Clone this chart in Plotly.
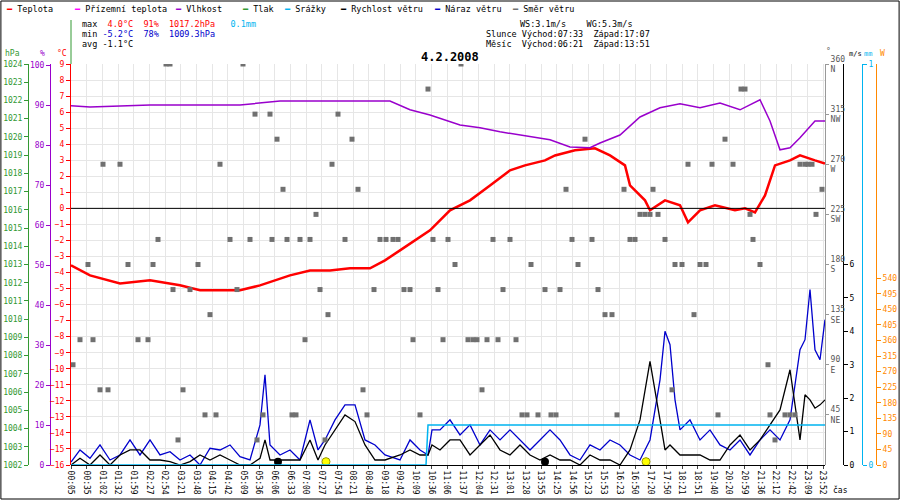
import plotly.graph_objects as go

W, H = 900, 500
time_labels = ["00:05","00:35","01:02","01:32","01:59","02:27","02:54","03:21","03:48","04:15",
               "04:42","05:09","05:36","06:06","06:33","07:00","07:27","07:54","08:21","08:48",
               "09:18","09:42","10:09","10:36","11:06","11:37","12:04","12:31","13:01","13:28",
               "13:55","14:25","14:56","15:23","15:53","16:23","16:50","17:20","17:50","18:21",
               "18:51","19:40","20:20","20:59","21:36","22:12","22:42","23:09","23:52"]

temp_x = [0,19,49,79,109,129,169,189,219,239,259,279,299,314,329,344,359,379,399,419,439,454,474,484,
          504,524,539,554,559,574,579,594,609,617,629,644,664,674,684,694,704,719,729,744,754]
temp_v = [-3.55,-4.18,-4.68,-4.49,-4.8,-5.11,-5.11,-4.8,-4.18,-3.87,-3.87,-3.74,-3.74,-3.24,-2.62,
          -1.99,-1.37,-0.12,0.5,1.43,2.37,2.68,2.99,3.3,3.62,3.74,3.3,2.68,1.43,0.5,-0.12,0.5,0.19,
          -0.87,-0.12,0.19,-0.12,0,-0.25,0.81,2.68,2.99,3.3,2.99,2.8]

hum_x = [0,19,79,169,209,319,339,359,389,409,429,459,479,499,519,529,549,569,589,609,629,649,669,689,
         699,709,719,729,744,754]
hum_v = [89.8,89.5,90,90,91,91,88.8,87.5,85,84.3,83.3,82,81.3,79.5,79.3,80.5,82.5,87,89.3,90.3,89.3,
         90.5,88.8,91.3,86,78.8,79.3,81.8,86,86]

wind_x = [0,9,19,29,39,49,59,69,79,89,99,109,119,129,139,149,159,169,179,189,194,199,209,219,229,239,
          247,254,264,274,284,294,304,314,329,339,349,357,361,369,379,389,399,409,419,429,439,449,459,
          469,479,489,499,509,519,529,539,549,559,569,579,589,594,599,604,609,619,629,639,649,659,669,
          679,689,699,709,719,729,734,739,744,749,754]
gust_v = [0.09,0.45,0.2,0.6,0.15,0.3,0.75,0.3,0.75,0.3,0.4,0.15,0.3,0,0.5,0.45,0.6,0.25,0.15,1.2,2.7,
          0.6,0.3,0.45,0.15,1.35,0.45,0.75,1.35,1.8,1.8,0.75,0.6,0.3,0.15,0.75,0.45,0.3,1.05,1.05,1.35,
          0.9,1.2,0.6,1.05,0.75,1.05,0.75,0.45,0.75,1.05,0.75,0.3,0.15,0.6,0.45,0.75,0.6,0.3,0.15,0.75,
          2.55,4.0,3.6,1.95,1.05,1.35,0.75,1.05,0.6,0.45,0.75,0.3,0.75,1.05,0.75,1.35,3.45,3.75,5.25,
          3.45,3.15,4.35]
speed_v = [0,0.2,0,0.3,0,0.3,0.45,0.45,0.15,0.15,0.1,0,0.1,0.3,0.15,0.3,0.15,0,0,0.2,0.75,0.15,0.15,
           0.15,0.15,0.75,0.15,0.6,1.05,1.5,1.3,0.6,0.15,0.15,0.3,0.45,0.3,0.3,0.6,0.45,0.75,0.75,0.3,
           0.6,0.9,0.45,0.3,0.6,0.3,0.15,0.3,0.15,0.15,0,0.3,0.15,0.15,0,0.45,1.35,3.1,1.35,0.45,0.6,
           0.45,0.3,0.3,0.3,0.15,0.15,0.6,0.9,0.45,0.75,1.2,1.65,2.85,0.75,2.1,1.95,1.7,1.8,1.95]
n = min(len(wind_x), len(gust_v), len(speed_v))

rain_x = [0,355,357,754]
rain_v = [0,0,0.1,0.1]

dir_x = [2,9,17,22,29,32,37,49,57,67,77,82,87,95,99,102,107,112,119,127,134,139,145,149,159,166,172,
         179,184,186,192,199,201,206,212,216,221,225,229,234,239,245,249,254,257,261,267,274,281,287,
         292,296,303,309,315,322,327,333,339,342,349,357,362,367,372,377,384,390,397,402,406,411,416,
         422,427,432,439,445,451,456,460,467,474,480,485,489,495,501,507,514,521,527,534,541,546,553,
         559,564,569,574,579,582,587,594,601,604,611,617,623,629,635,641,647,654,662,670,674,679,682,
         689,697,699,704,714,719,724,729,734,737,741,745,751]
dir_v = [90,112.5,180,112.5,67.5,270,67.5,270,180,112.5,112.5,180,202.5,360,360,157.5,22.5,67.5,157.5,
         180,45,135,45,270,202.5,157.5,360,202.5,315,22.5,45,315,202.5,292.5,247.5,202.5,45,45,202.5,
         112.5,202.5,225,157.5,22.5,135,270,315,202.5,292.5,247.5,67.5,45,157.5,202.5,202.5,202.5,
         202.5,157.5,157.5,112.5,45,337.5,202.5,157.5,112.5,202.5,180,360,112.5,112.5,112.5,67.5,112.5,
         202.5,112.5,157.5,202.5,112.5,45,45,180,45,157.5,45,45,157.5,247.5,202.5,180,292.5,202.5,
         157.5,135,135,45,247.5,202.5,202.5,225,225,225,247.5,225,202.5,67.5,180,180,270,135,180,180,
         270,45,292.5,270,337.5,337.5,225,202.5,180,90,45,22.5,45,45,45,270,270,270,270,225,247.5,
         247.5]
m = min(len(dir_x), len(dir_v))

sun_x = [255, 575]
moon_x = [207, 474]

dom = [71/W, 825/W]
ydom = [(H-465)/H, (H-64)/H]
mono = "DejaVu Sans Mono"

fig = go.Figure()
fig.add_trace(go.Scatter(x=dir_x[:m], y=dir_v[:m], yaxis="y5", mode="markers",
                         marker=dict(symbol="square", size=5, color="#707070")))
fig.add_trace(go.Scatter(x=rain_x, y=rain_v, yaxis="y7", mode="lines", line=dict(color="#00b4f0", width=1.5)))
fig.add_trace(go.Scatter(x=wind_x[:n], y=gust_v[:n], yaxis="y4", mode="lines", line=dict(color="#0000cc", width=1.3)))
fig.add_trace(go.Scatter(x=wind_x[:n], y=speed_v[:n], yaxis="y4", mode="lines", line=dict(color="black", width=1.3)))
fig.add_trace(go.Scatter(x=hum_x, y=hum_v, yaxis="y3", mode="lines", line=dict(color="#9900cc", width=1.5)))
fig.add_trace(go.Scatter(x=temp_x, y=temp_v, yaxis="y", mode="lines", line=dict(color="#ff0000", width=2.5)))
fig.add_trace(go.Scatter(x=sun_x, y=[0.1,0.1], yaxis="y4", mode="markers",
                         marker=dict(size=8, color="yellow", line=dict(color="#999900", width=1))))
fig.add_trace(go.Scatter(x=moon_x, y=[0.1,0.1], yaxis="y4", mode="markers", marker=dict(size=8, color="black")))
fig.add_trace(go.Scatter(x=[0], y=[None], yaxis="y2"))
fig.add_trace(go.Scatter(x=[0], y=[None], yaxis="y8"))

tickf = lambda c: dict(family=mono, size=8, color=c)
common = dict(domain=ydom, anchor="free", showgrid=False, zeroline=False, ticks="outside",
              showline=True, linewidth=1, automargin=False)
fig.update_layout(
    width=W, height=H, margin=dict(l=0, r=0, t=0, b=0, autoexpand=False), showlegend=False,
    paper_bgcolor="white", plot_bgcolor="white",
    xaxis=dict(domain=dom, range=[0, 754], tickvals=[i*752/48 for i in range(49)], ticktext=time_labels,
               tickangle=90, tickfont=dict(family=mono, size=8, color="black"), showgrid=True, automargin=False,
               gridcolor="#e6e6e6", zeroline=False, ticks="outside", ticklen=3, showline=True, linecolor="black"),
    yaxis=dict(**{**common, "showgrid": True}, ticklen=4, gridcolor="#e6e6e6", range=[-16, 9], dtick=1, position=70/W,
               linecolor="red", tickcolor="red", tickfont=tickf("red")),
    yaxis2=dict(**common, ticklen=4, overlaying="y", range=[1002, 1024], dtick=1, position=28/W,
                linecolor="#339933", tickcolor="#339933", tickfont=tickf("#339933")),
    yaxis3=dict(**common, ticklen=4, overlaying="y", range=[0, 100.25], tickvals=list(range(0, 101, 10)), position=50/W,
                linecolor="#9900cc", tickcolor="#9900cc", tickfont=tickf("#9900cc")),
    yaxis4=dict(**common, ticklen=4, overlaying="y", side="right", range=[0, 12.0], tickvals=list(range(0, 7)),
                position=843/W, linecolor="black", tickcolor="black", tickfont=tickf("black")),
    yaxis5=dict(**common, ticklen=3, overlaying="y", side="right", range=[0, 360],
                tickvals=[45, 90, 135, 180, 225, 270, 315, 360],
                ticktext=["45<br>NE", "90<br>E", "135<br>SE", "180<br>S", "225<br>SW", "270<br>W", "315<br>NW", "360<br>N"],
                position=825/W, linecolor="#999", tickcolor="#999", tickfont=dict(family=mono, size=8, color="#555")),
    yaxis7=dict(**common, ticklen=4, overlaying="y", side="right", range=[0, 1], tickvals=[0, 1], position=862/W,
                linecolor="#00b4f0", tickcolor="#00b4f0", tickfont=tickf("#00b4f0")),
    yaxis8=dict(**common, ticklen=4, overlaying="y", side="right", range=[0, 1159], tickvals=list(range(0, 541, 45)),
                position=876/W, linecolor="#ff8800", tickcolor="#ff8800", tickfont=tickf("#ff8800")),
)

fig.add_shape(type="line", xref="x", yref="y", x0=0, x1=754, y0=0, y1=0, line=dict(color="black", width=1))
fig.add_shape(type="line", xref="paper", yref="paper", x0=71/W, x1=71/W, y0=ydom[1], y1=1-20/H,
              line=dict(color="#339933", width=1))
fig.add_shape(type="rect", xref="paper", yref="paper", x0=0.001, x1=0.999, y0=0.002, y1=0.998,
              line=dict(color="black", width=1))

def ann(x, y, text, color="black", size=8.5, anchor="left", bold=False):
    if bold:
        text = "<b>" + text + "</b>"
    fig.add_annotation(x=x/W, y=1-y/H, xref="paper", yref="paper", text=text, showarrow=False,
                       xanchor=anchor, yanchor="middle", font=dict(family=mono, size=size, color=color))

legend = [(4, "Teplota", "#ff0000"), (72, "Přízemní teplota", "#ff00ff"), (173, "Vlhkost", "#9900cc"),
          (240, "Tlak", "#339933"), (282, "Srážky", "#00b4f0"), (338, "Rychlost větru", "black"),
          (432, "Náraz větru", "#0000cc"), (510, "Směr větru", "#707070")]
for x, t, c in legend:
    ann(x, 9, f"<span style='color:{c}'><b>━</b></span> {t}")

ann(80, 24, "max  <span style='color:red'>4.0°C  91%  1017.2hPa</span>   <span style='color:#00b4f0'>0.1mm</span>")
ann(80, 34, "min <span style='color:#0000cc'>-5.2°C  78%  1009.3hPa</span>")
ann(80, 44, "avg -1.1°C")
ann(518, 24, "WS:3.1m/s    WG:5.3m/s")
ann(484, 34, "Slunce Východ:07:33  Západ:17:07")
ann(484, 44, "Měsíc  Východ:06:21  Západ:13:51")
ann(450, 57, "4.2.2008", size=12, anchor="center", bold=True)
ann(12, 54, "hPa", "#339933", 8, "center")
ann(42, 54, "%", "#9900cc", 8, "center")
ann(62, 54, "°C", "red", 8, "center")
ann(828, 52, "°", "#555", 8, "center")
ann(855, 54, "m/s", "black", 7, "center")
ann(868, 54, "mm", "#00b4f0", 7, "center")
ann(882, 54, "W", "#ff8800", 8, "center")
ann(840, 490, "čas", "black", 8, "center")

fig.write_html("out.html", config={"displayModeBar": False},
               post_script="document.body.style.margin='0';document.body.style.overflow='hidden';")
